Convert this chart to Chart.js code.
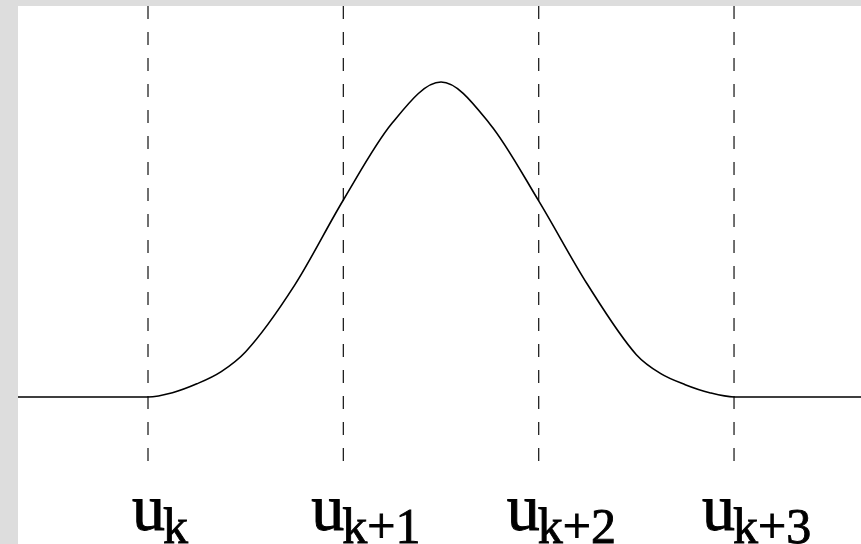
<!DOCTYPE html>
<html>
<head>
<meta charset="utf-8">
<script src="https://cdn.jsdelivr.net/npm/chart.js@4/dist/chart.umd.min.js"></script>
<style>
  html, body { margin: 0; padding: 0; background: #dddddd; }
  #wrap { width: 861px; height: 544px; }
</style>
</head>
<body>
<div id="wrap"><canvas id="c" width="861" height="544"></canvas></div>
<script>
// Knot positions (in knot-index units) and their subscript labels
const knots = [0, 1, 2, 3];
const knotLabels = ['k', 'k+1', 'k+2', 'k+3'];

// Basis function curve
const curveX = [-0.7, 0, 0.125, 0.25, 0.375, 0.5, 0.75, 1.0, 1.25, 1.5, 1.75, 2.0, 2.25, 2.5, 2.625, 2.75, 2.875, 3.0, 3.7];
const curveY = [0, 0, 0.010, 0.031, 0.060, 0.107, 0.264, 0.466, 0.648, 0.745, 0.646, 0.464, 0.266, 0.100, 0.055, 0.029, 0.010, 0, 0];

// Extent of the dashed knot lines (value units)
const dashTop = 0.925;
const dashBottom = -0.154;

const datasets = [{
  data: curveX.map((x, i) => ({ x: x, y: curveY[i] })),
  borderColor: '#000000',
  borderWidth: 1.6,
  pointRadius: 0,
  cubicInterpolationMode: 'monotone',
  fill: false
}];
knots.forEach(k => {
  datasets.push({
    data: [{ x: k, y: dashTop }, { x: k, y: dashBottom }],
    borderColor: '#222222',
    borderWidth: 1.3,
    borderDash: [13, 13],
    pointRadius: 0,
    fill: false
  });
});

const bgPlugin = {
  id: 'bg',
  beforeDraw(chart) {
    const { ctx, chartArea } = chart;
    ctx.save();
    ctx.fillStyle = '#dddddd';
    ctx.fillRect(0, 0, chart.width, chart.height);
    ctx.fillStyle = '#ffffff';
    ctx.fillRect(chartArea.left, chartArea.top, chartArea.right - chartArea.left, chartArea.bottom - chartArea.top);
    ctx.restore();
  }
};

const labelPlugin = {
  id: 'knotLabels',
  afterDraw(chart) {
    const { ctx } = chart;
    const xs = chart.scales.x;
    ctx.save();
    ctx.fillStyle = '#000000';
    ctx.strokeStyle = '#000000';
    ctx.lineWidth = 0.9;
    ctx.textBaseline = 'alphabetic';
    ctx.textAlign = 'left';
    knots.forEach((k, i) => {
      const px = xs.getPixelForValue(k);
      const sub = knotLabels[i];
      const left = px - (sub.length > 1 ? 32 : 16);
      ctx.font = '66px "Liberation Serif"';
      ctx.fillText('u', left, 530);
      ctx.strokeText('u', left, 530);
      const w = ctx.measureText('u').width;
      ctx.font = '50px "Liberation Serif"';
      ctx.fillText(sub, left + w - 2, 543);
      ctx.strokeText(sub, left + w - 2, 543);
    });
    ctx.restore();
  }
};

new Chart(document.getElementById('c'), {
  type: 'line',
  data: { datasets: datasets },
  options: {
    responsive: false,
    animation: false,
    events: [],
    layout: { padding: { left: 18, top: 6, right: 0, bottom: 0 } },
    plugins: { legend: { display: false }, tooltip: { enabled: false } },
    scales: {
      x: { type: 'linear', display: false, min: -0.6655, max: 3.650 },
      y: { type: 'linear', display: false, min: -0.348, max: 0.925 }
    }
  },
  plugins: [bgPlugin, labelPlugin]
});
</script>
</body>
</html>
